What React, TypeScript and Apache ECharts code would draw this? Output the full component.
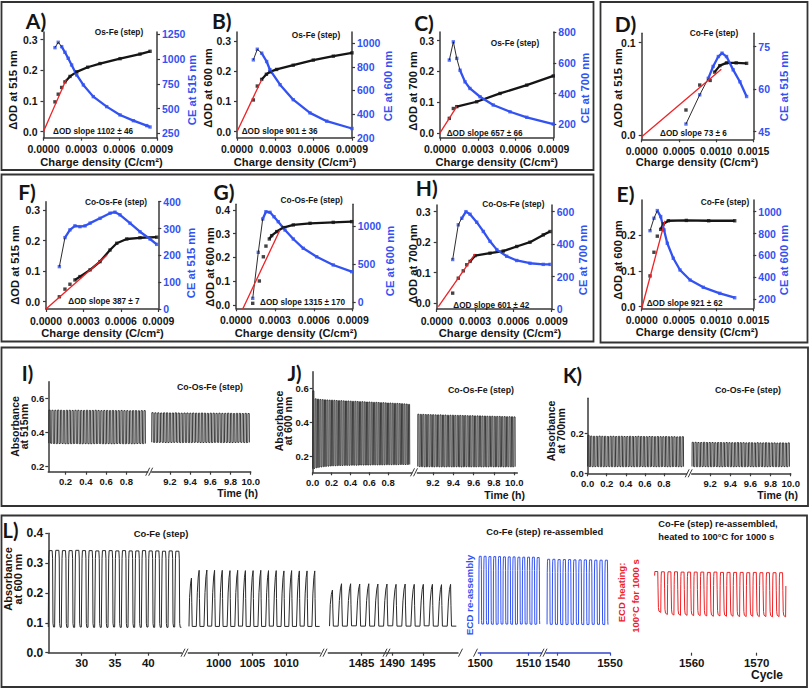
import React, { useEffect, useRef } from "react";
import * as echarts from "echarts";

type P = [number, number];

// ---------------- Panels A–H : ΔOD (left) and CE (right) vs charge density ----------------
const A_OD: P[] = [[0.000091,0.097],[0.000117,0.122],[0.000144,0.144],[0.00017,0.162],[0.00021,0.18],[0.000263,0.195],[0.00035,0.21],[0.000448,0.222],[0.000607,0.238],[0.000765,0.253],[0.000845,0.262]];
const A_CE: P[] = [[0.000091,1115],[0.000117,1169],[0.000144,1125],[0.00017,1068],[0.000196,1007],[0.000223,940],[0.000263,839],[0.000316,738],[0.000395,620],[0.000501,519],[0.000607,435],[0.000713,377],[0.000819,327],[0.000845,313]];
const A_FIT: P[] = [[0,0],[0.00018,0.17]];

const B_OD: P[] = [[0.000128,0.105],[0.000159,0.151],[0.000193,0.173],[0.00023,0.19],[0.000258,0.198],[0.00031,0.206],[0.00044,0.22],[0.000597,0.237],[0.000754,0.25],[0.0009,0.261]];
const B_CE: P[] = [[0.000128,859],[0.000159,949],[0.000193,916],[0.000232,845],[0.000258,775],[0.000337,649],[0.00044,522],[0.000571,410],[0.000702,340],[0.0009,278]];
const B_FIT: P[] = [[0,0],[0.000193,0.172]];

const C_OD: P[] = [[0.000074,0.047],[0.000106,0.079],[0.000133,0.085],[0.000291,0.101],[0.000477,0.128],[0.000689,0.155],[0.0009,0.185]];
const C_CE: P[] = [[0.000074,619],[0.000106,738],[0.000133,630],[0.000159,553],[0.000199,477],[0.000238,434],[0.000318,380],[0.000423,326],[0.000556,282],[0.000689,246],[0.0009,202]];
const C_FIT: P[] = [[0,0],[0.000133,0.085]];

const D_OD: P[] = [[0.000595,0.027],[0.00078,0.054],[0.00092,0.059],[0.00098,0.068],[0.00105,0.075],[0.00114,0.078],[0.00127,0.078],[0.00141,0.0775]];
const D_CE: P[] = [[0.000595,47.7],[0.00078,58],[0.000895,63.8],[0.00096,68],[0.00103,71.5],[0.00108,72.7],[0.00114,71.5],[0.00123,66.8],[0.00132,62.6],[0.00141,57.4]];
const D_FIT: P[] = [[0,-0.002],[0.00107,0.071]];

const E_OD: P[] = [[0.000112,0.086],[0.000165,0.152],[0.00021,0.197],[0.000255,0.216],[0.00029,0.231],[0.000358,0.24],[0.0006,0.241],[0.0009,0.24],[0.00125,0.24]];
const E_CE: P[] = [[0.000112,826],[0.000165,940],[0.00021,1010],[0.000255,955],[0.0003,833],[0.000344,711],[0.000425,573],[0.000515,466],[0.00065,374],[0.000828,307],[0.00105,252],[0.00125,212]];
const E_FIT: P[] = [[0,-0.005],[0.000313,0.24]];

const F_OD: P[] = [[0.000107,0.016],[0.000152,0.041],[0.000192,0.057],[0.000232,0.071],[0.000272,0.082],[0.000353,0.104],[0.000433,0.131],[0.000513,0.169],[0.000567,0.191],[0.000647,0.205],[0.000753,0.209],[0.000887,0.211]];
const F_CE: P[] = [[0.000107,158],[0.000152,266],[0.000192,295],[0.000232,310],[0.000272,307],[0.000313,310],[0.000353,320],[0.000433,338],[0.000513,357],[0.000553,361],[0.000593,351],[0.000673,320],[0.000753,288],[0.000834,261],[0.000887,241]];
const F_FIT: P[] = [[0,-0.024],[0.00049,0.153]];

const G_OD: P[] = [[0.000129,0.007],[0.00018,0.101],[0.000211,0.203],[0.000231,0.248],[0.000257,0.278],[0.000275,0.292],[0.000314,0.309],[0.000365,0.326],[0.000442,0.337],[0.000571,0.344],[0.00075,0.348],[0.000892,0.351]];
const G_CE: P[] = [[0.000129,52],[0.000172,655],[0.000206,1091],[0.000231,1187],[0.000262,1179],[0.000293,1121],[0.000326,1056],[0.000378,947],[0.000442,829],[0.000519,707],[0.000622,597],[0.00075,489],[0.000892,401]];
const G_FIT: P[] = [[0.000052,-0.017],[0.000339,0.316]];

const H_OD: P[] = [[0.000125,0.033],[0.000169,0.082],[0.000208,0.106],[0.000235,0.126],[0.000261,0.137],[0.0003,0.156],[0.000417,0.164],[0.000521,0.171],[0.000626,0.186],[0.00073,0.2],[0.000834,0.224],[0.000887,0.235]];
const H_CE: P[] = [[0.000125,305],[0.000169,519],[0.000196,559],[0.000229,600],[0.000261,584],[0.000313,535],[0.000365,478],[0.000417,417],[0.00047,366],[0.000548,325],[0.000626,299],[0.00073,282],[0.000834,275],[0.000887,275]];
const H_FIT: P[] = [[0.000013,-0.011],[0.0003,0.161]];

// tick values
const X9 = [0, 0.0003, 0.0006, 0.0009];
const X15 = [0, 0.0005, 0.001, 0.0015];
const OD3 = [0, 0.1, 0.2, 0.3];

// ---------------- Panels I–K : absorbance vs time, per-cycle peak / trough ----------------
const I1_PEAK = [0.531,0.53,0.53,0.531,0.53,0.529,0.53,0.53,0.529,0.53,0.53,0.529,0.529,0.53,0.529,0.529,0.53,0.529,0.528,0.529,0.529,0.528,0.529,0.528,0.528,0.529,0.528,0.528,0.527,0.528,0.528,0.527,0.528,0.528];
const I1_LOW = [0.338,0.336,0.335,0.335,0.336,0.335,0.334,0.335,0.335,0.336,0.335,0.334,0.335,0.335,0.334,0.335,0.335,0.336,0.335,0.334,0.335,0.335,0.334,0.335,0.336,0.335,0.334,0.335,0.335,0.334,0.335,0.336,0.335,0.335];
const I2_PEAK = [0.516,0.515,0.515,0.514,0.515,0.515,0.514,0.514,0.515,0.514,0.513,0.514,0.514,0.513,0.514,0.513,0.513,0.514,0.513,0.512,0.513,0.513,0.512,0.513,0.512,0.512,0.513,0.512,0.511,0.512,0.512,0.511,0.512,0.511];
const I2_LOW = [0.343,0.342,0.342,0.343,0.342,0.341,0.342,0.342,0.343,0.342,0.341,0.342,0.342,0.341,0.342,0.343,0.342,0.341,0.342,0.342,0.341,0.342,0.343,0.342,0.341,0.342,0.342,0.341,0.342,0.342,0.343,0.342,0.341,0.342];
const J1_PEAK = [0.585,0.538,0.536,0.534,0.533,0.532,0.531,0.53,0.53,0.529,0.528,0.527,0.527,0.526,0.525,0.525,0.524,0.523,0.523,0.522,0.521,0.521,0.52,0.519,0.519,0.518,0.517,0.517,0.516,0.515,0.515,0.514,0.513,0.513,0.512,0.511,0.511,0.51,0.509,0.508,0.507,0.505];
const J1_LOW = [0.125,0.13,0.132,0.135,0.137,0.138,0.14,0.141,0.142,0.143,0.143,0.144,0.144,0.145,0.145,0.145,0.146,0.146,0.146,0.146,0.147,0.147,0.147,0.147,0.147,0.148,0.148,0.148,0.148,0.148,0.148,0.149,0.149,0.149,0.149,0.149,0.149,0.15,0.15,0.15,0.15,0.15];
const J2_PEAK = [0.447,0.446,0.446,0.445,0.445,0.444,0.444,0.443,0.443,0.443,0.442,0.442,0.441,0.441,0.441,0.44,0.44,0.44,0.439,0.439,0.438,0.438,0.438,0.437,0.437,0.437,0.436,0.436,0.435,0.435,0.435,0.434,0.434,0.434,0.433,0.433,0.432,0.432,0.432,0.431];
const J2_LOW = [0.138,0.137,0.137,0.136,0.137,0.137,0.136,0.137,0.137,0.136,0.137,0.136,0.137,0.137,0.136,0.137,0.137,0.136,0.136,0.137,0.137,0.136,0.137,0.136,0.137,0.137,0.136,0.137,0.136,0.137,0.137,0.136,0.137,0.136,0.137,0.136,0.137,0.137,0.136,0.137];
const K1_PEAK = [0.19,0.186,0.185,0.185,0.186,0.185,0.185,0.184,0.185,0.185,0.184,0.185,0.185,0.184,0.184,0.185,0.184,0.184,0.185,0.184,0.184,0.183,0.184,0.184,0.183,0.184,0.183,0.183,0.184,0.183,0.183,0.183,0.182,0.183,0.183];
const K1_LOW = [0.034,0.033,0.033,0.034,0.033,0.033,0.033,0.034,0.033,0.033,0.033,0.034,0.033,0.033,0.033,0.034,0.033,0.033,0.033,0.034,0.033,0.033,0.033,0.034,0.033,0.033,0.033,0.034,0.033,0.033,0.033,0.034,0.033,0.033,0.033];
const K2_PEAK = [0.155,0.155,0.154,0.154,0.155,0.154,0.154,0.154,0.153,0.154,0.154,0.153,0.154,0.153,0.153,0.153,0.154,0.153,0.153,0.152,0.153,0.153,0.152,0.153,0.152,0.152,0.153,0.152,0.152,0.152,0.151,0.152,0.152,0.151,0.152];
const K2_LOW = [0.034,0.033,0.033,0.033,0.034,0.033,0.033,0.033,0.034,0.033,0.033,0.033,0.034,0.033,0.033,0.033,0.034,0.033,0.033,0.033,0.034,0.033,0.033,0.033,0.034,0.033,0.033,0.033,0.034,0.033,0.033,0.033,0.034,0.033,0.033];
// time spans covered by each recorded segment (h)
const I1_SPAN: P = [0.035, 1.0];
const I2_SPAN: P = [9.02, 10.0];
const J1_SPAN: P = [0.0, 1.04];
const J2_SPAN: P = [9.05, 10.02];
const K1_SPAN: P = [0.0, 1.02];
const K2_SPAN: P = [9.02, 10.0];

// ---------------- Panel L : absorbance at 600 nm per cycle ----------------
const L1_PEAK = [0.342,0.343,0.342,0.342,0.343,0.342,0.342,0.341,0.342,0.342,0.341,0.342,0.341,0.341,0.342,0.341,0.341,0.34,0.341,0.34];
const L1_LOW = [0.086,0.085,0.085,0.085,0.086,0.085,0.085,0.085,0.085,0.086,0.085,0.085,0.085,0.085,0.086,0.085,0.085,0.085,0.086,0.085];
const L2_PEAK = [0.25,0.276,0.277,0.276,0.276,0.275,0.276,0.275,0.275,0.276,0.275,0.275,0.274,0.275,0.274,0.274,0.274];
const L2_LOW = [0.088,0.088,0.089,0.088,0.088,0.088,0.089,0.088,0.088,0.088,0.089,0.088,0.088,0.088,0.089,0.088,0.088];
const L3_PEAK = [0.21,0.231,0.231,0.23,0.231,0.23,0.23,0.229,0.23,0.229,0.229,0.229,0.228,0.229];
const L3_LOW = [0.089,0.089,0.09,0.089,0.089,0.089,0.09,0.089,0.089,0.089,0.09,0.089,0.089,0.089];
const L4_PEAK = [0.323,0.323,0.322,0.322,0.322,0.321,0.321,0.321,0.32,0.32,0.32,0.32,0.319];
const L4_LOW = [0.096,0.096,0.096,0.095,0.096,0.096,0.096,0.095,0.096,0.096,0.096,0.095,0.096];
const L5_PEAK = [0.313,0.313,0.312,0.312,0.312,0.311,0.311,0.311,0.311,0.31,0.31,0.31];
const L5_LOW = [0.095,0.095,0.095,0.094,0.095,0.095,0.095,0.094,0.095,0.095,0.095,0.094];
const L6_PEAK = [0.272,0.271,0.271,0.271,0.27,0.27,0.27,0.27,0.269,0.27,0.269,0.269,0.269,0.269,0.268,0.269,0.268,0.268,0.268,0.268];
const L6_LOW = [0.135,0.128,0.126,0.125,0.125,0.124,0.124,0.123,0.122,0.123,0.122,0.122,0.121,0.121,0.122,0.121,0.121,0.12,0.121,0.12];
const L1_SPAN: P = [25, 45];
const L2_SPAN: P = [995.6, 1015];
const L3_SPAN: P = [1479.8, 1500.5];
const L4_SPAN: P = [1499.7, 1512.7];
const L5_SPAN: P = [1538, 1550];
const L6_SPAN: P = [1554.3, 1574.5];

// ---------------- styles ----------------
const BLUE = "#3352f2";
const RED = "#ee2226";
const INK = "#151515";
const AXIS = "#3a3a3a";
const FONT = "'Liberation Sans', Arial, Helvetica, sans-serif";
const LFONT = "Lato, 'Open Sans', sans-serif";

// one-cycle templates [fraction of period, fraction of amplitude]
const SHAPE_FAST: P[] = [[0,0],[0.06,1],[0.5,1],[0.56,0]];
const SHAPE_SQ: P[] = [[0,0],[0.06,0.9],[0.12,1],[0.58,1],[0.64,0.9],[0.7,0.05],[0.78,0],[0.95,0]];
const SHAPE_SAW: P[] = [[0,0],[0.08,0.6],[0.2,0.88],[0.32,1],[0.36,0.5],[0.42,0],[0.95,0]];
const SHAPE_BLUE: P[] = [[0,0],[0.04,0.8],[0.08,0.97],[0.12,1],[0.5,1],[0.54,0.8],[0.58,0.05],[0.62,0]];
const SHAPE_RED: P[] = [[0,0.9],[0.04,1],[0.48,1],[0.52,0.6],[0.58,0.12],[0.66,0.03],[0.94,0],[0.98,0.7]];

function wave(span: P, peaks: number[], lows: number[], shape: P[]): P[] {
  const n = peaks.length;
  const per = (span[1] - span[0]) / n;
  const out: P[] = [];
  for (let i = 0; i < n; i++) {
    for (const [fx, fy] of shape) {
      out.push([span[0] + (i + fx) * per, lows[i] + fy * (peaks[i] - lows[i])]);
    }
  }
  return out;
}

const DUAL = [
  { grid: [43.5, 32, 113.5, 105.7], x: [0, 0.0009], xt: X9, yl: [-0.02, 0.325], ylt: OD3, yr: [205, 1273], yrt: [250, 500, 750, 1000, 1250], od: A_OD, ce: A_CE, fit: A_FIT, kOD: 3, kCE: 2,
    letter: "A)", lp: [36, 20], sub: "Os-Fe (step)", sp: [119, 31.7], slope: "ΔOD slope 1102 ± 46", slp: [53, 131.7], ln: "ΔOD at 515 nm", lnp: [12.5, 90], rn: "CE at 515 nm", rnp: [191.7, 90], xnp: [101.5, 161.7] },
  { grid: [237, 32, 115, 105.7], x: [0, 0.0009], xt: X9, yl: [-0.02, 0.33], ylt: OD3, yr: [200, 1095], yrt: [200, 400, 600, 800, 1000], od: B_OD, ce: B_CE, fit: B_FIT, kOD: 2, kCE: 2,
    letter: "B)", lp: [221.7, 20.7], sub: "Os-Fe (step)", sp: [316, 35], slope: "ΔOD slope 901 ± 36", slp: [241.7, 131.7], ln: "ΔOD at 600 nm", lnp: [208, 88], rn: "CE at 600 nm", rnp: [387.5, 86], xnp: [295, 162] },
  { grid: [440, 32, 113.3, 105.7], x: [0, 0.0009], xt: X9, yl: [-0.016, 0.328], ylt: OD3, yr: [113, 802], yrt: [200, 400, 600, 800], od: C_OD, ce: C_CE, fit: C_FIT, kOD: 2, kCE: 3,
    letter: "C)", lp: [424, 22.5], sub: "Os-Fe (step)", sp: [515, 42.7], slope: "ΔOD slope 657 ± 66", slp: [446.7, 133.3], ln: "ΔOD at 700 nm", lnp: [413, 91], rn: "CE at 700 nm", rnp: [585, 88], xnp: [496.7, 162.3] },
  { grid: [641.7, 33.3, 111.6, 106], x: [0, 0.0015], xt: X15, yl: [-0.0047, 0.11], ylt: [0, 0.1], yr: [42.3, 79.7], yrt: [45, 60, 75], od: D_OD, ce: D_CE, fit: D_FIT, kOD: 3, kCE: 2,
    letter: "D)", lp: [625.5, 23], sub: "Co-Fe (step)", sp: [714, 32.7], slope: "ΔOD slope 73 ± 6", slp: [660, 133.3], ln: "ΔOD at 515 nm", lnp: [617.5, 88], rn: "CE at 515 nm", rnp: [784, 86], xnp: [697, 162.3] },
  { grid: [641.7, 200, 111.6, 108.3], x: [0, 0.0015], xt: X15, yl: [-0.0045, 0.298], ylt: [0, 0.1, 0.2], yr: [115, 1107], yrt: [200, 400, 600, 800, 1000], od: E_OD, ce: E_CE, fit: E_FIT, kOD: 3, kCE: 2,
    letter: "E)", lp: [625.5, 193], sub: "Co-Fe (step)", sp: [725, 201.7], slope: "ΔOD slope 921 ± 62", slp: [646.7, 303.3], ln: "ΔOD at 600 nm", lnp: [617.5, 260], rn: "CE at 600 nm", rnp: [784, 260], xnp: [697, 331.7] },
  { grid: [46, 201.7, 112.3, 107.3], x: [0, 0.0009], xt: X9, yl: [-0.024, 0.327], ylt: OD3, yr: [0, 400], yrt: [0, 100, 200, 300, 400], od: F_OD, ce: F_CE, fit: F_FIT, kOD: 3, kCE: 1,
    letter: "F)", lp: [27, 191], sub: "Co-Os-Fe (step)", sp: [116, 201.7], slope: "ΔOD slope 387 ± 7", slp: [68.3, 301.7], ln: "ΔOD at 515 nm", lnp: [15, 265], rn: "CE at 515 nm", rnp: [191, 263], xnp: [102.5, 333.3] },
  { grid: [236, 204.3, 116.7, 104], x: [0, 0.0009], xt: X9, yl: [-0.014, 0.424], ylt: [0, 0.1, 0.2, 0.3, 0.4], yr: [-79, 1284], yrt: [0, 500, 1000], od: G_OD, ce: G_CE, fit: G_FIT, kOD: 4, kCE: 2,
    letter: "G)", lp: [224, 191.5], sub: "Co-Os-Fe (step)", sp: [311.7, 200], slope: "ΔOD slope 1315 ± 170", slp: [260, 302.3], ln: "ΔOD at 600 nm", lnp: [210, 267], rn: "CE at 600 nm", rnp: [390, 261], xnp: [296, 333] },
  { grid: [436.7, 205, 115, 104], x: [0, 0.0009], xt: X9, yl: [-0.019, 0.322], ylt: OD3, yr: [0, 641], yrt: [0, 200, 400, 600], od: H_OD, ce: H_CE, fit: H_FIT, kOD: 4, kCE: 2,
    letter: "H)", lp: [426.7, 187.5], sub: "Co-Os-Fe (step)", sp: [513.3, 204.3], slope: "ΔOD slope 601 ± 42", slp: [453.3, 305], ln: "ΔOD at 700 nm", lnp: [413, 264], rn: "CE at 700 nm", rnp: [582.5, 260], xnp: [500, 333] },
];

const TIME = [
  { gl: [48.3, 381.7, 99.4, 90], gr: [151.7, 381.7, 99, 90], y: [0.171, 0.697], yt: [0.2, 0.4, 0.6], xl: [0.03, 1.01], xlt: [0.2, 0.4, 0.6, 0.8], xr: [9.02, 10.0],
    w1: wave(I1_SPAN, I1_PEAK, I1_LOW, SHAPE_FAST), w2: wave(I2_SPAN, I2_PEAK, I2_LOW, SHAPE_FAST),
    letter: "I)", lp: [27.5, 373], sp: [210, 386.7], yn: "Absorbance\nat 515nm", ynp: [19.5, 426.5], tp: [258, 493.3], brk: [149.7, 471.7] },
  { gl: [312.7, 371.7, 99, 100.6], gr: [417.3, 371.7, 100, 100.6], y: [0.104, 0.698], yt: [0.2, 0.4, 0.6], xl: [0, 1.05], xlt: [0, 0.2, 0.4, 0.6, 0.8], xr: [9.046, 10.03],
    w1: wave(J1_SPAN, J1_PEAK, J1_LOW, SHAPE_FAST), w2: wave(J2_SPAN, J2_PEAK, J2_LOW, SHAPE_FAST),
    letter: "J)", lp: [294.5, 373], sp: [481, 390], yn: "Absorbance\nat 600 nm", ynp: [283.3, 421], tp: [525, 495], brk: [414.5, 472.3] },
  { gl: [587.7, 398.3, 99, 75], gr: [691.7, 398.3, 99, 75], y: [0, 0.375], yt: [0, 0.2], xl: [0, 1.04], xlt: [0, 0.2, 0.4, 0.6, 0.8], xr: [9.017, 10.0],
    w1: wave(K1_SPAN, K1_PEAK, K1_LOW, SHAPE_FAST), w2: wave(K2_SPAN, K2_PEAK, K2_LOW, SHAPE_FAST),
    letter: "K)", lp: [572.5, 375], sp: [748, 390], yn: "Absorbance\nat 700nm", ynp: [555.8, 431], tp: [798, 495], brk: [689.2, 473.3] },
];
const TIME_RT = [9.2, 9.4, 9.6, 9.8, 10.0];

const CYC = [
  { g: [48.3, 533.3, 133.4, 119.4], x: [25, 45], xt: [30, 35, 40], data: wave(L1_SPAN, L1_PEAK, L1_LOW, SHAPE_SQ), color: "#2a2a2a", axis: AXIS },
  { g: [188.3, 533.3, 131.7, 119.4], x: [995.5, 1015], xt: [1000, 1005, 1010], data: wave(L2_SPAN, L2_PEAK, L2_LOW, SHAPE_SAW), color: "#2a2a2a", axis: AXIS },
  { g: [328.3, 533.3, 129.7, 119.4], x: [1479.6, 1500.7], xt: [1485, 1490, 1495], data: wave(L3_SPAN, L3_PEAK, L3_LOW, SHAPE_SAW), color: "#2a2a2a", axis: AXIS },
  { g: [478.3, 533.3, 63.3, 119.4], x: [1499.6, 1512.7], xt: [1500, 1510], data: wave(L4_SPAN, L4_PEAK, L4_LOW, SHAPE_BLUE), color: BLUE, axis: "#3347c8" },
  { g: [546, 533.3, 64, 119.4], x: [1537.8, 1550], xt: [1540, 1550], data: wave(L5_SPAN, L5_PEAK, L5_LOW, SHAPE_BLUE), color: BLUE, axis: "#3347c8" },
  { g: [653.3, 533.3, 132.7, 119.4], x: [1554.1, 1574.5], xt: [1560, 1570], data: wave(L6_SPAN, L6_PEAK, L6_LOW, SHAPE_RED), color: RED, axis: "grad" },
];

function buildOption() {
  const grid: any[] = [], xAxis: any[] = [], yAxis: any[] = [], series: any[] = [], graphic: any[] = [];
  const lab = (size: number, color = INK) => ({ fontSize: size, fontWeight: "bold", fontFamily: FONT, color });

  const addGrid = (g: number[]) => {
    grid.push({ left: g[0], top: g[1], width: g[2], height: g[3], containLabel: false, outerBoundsMode: "none", show: false });
    return grid.length - 1;
  };
  const addX = (gi: number, r: number[], ticks: number[], fmt: (v: number) => string, size: number, color: any = AXIS, margin = 4) => {
    xAxis.push({
      type: "value", gridIndex: gi, min: r[0], max: r[1], position: "bottom",
      axisLine: { show: true, onZero: false, lineStyle: { color, width: 1.5 } },
      axisTick: { show: true, length: 3, customValues: ticks, lineStyle: { color: typeof color === "string" ? color : AXIS, width: 1.2 } },
      axisLabel: { show: true, customValues: ticks, formatter: fmt, margin, hideOverlap: false, ...lab(size) },
      splitLine: { show: false },
    });
    return xAxis.length - 1;
  };
  const addY = (gi: number, r: number[], ticks: number[] | null, fmt: (v: number) => string, size: number, pos: string, labColor = INK, margin = 6) => {
    if (!ticks) {
      yAxis.push({ type: "value", gridIndex: gi, min: r[0], max: r[1], show: false });
    } else {
      yAxis.push({
        type: "value", gridIndex: gi, min: r[0], max: r[1], position: pos,
        axisLine: { show: true, onZero: false, lineStyle: { color: AXIS, width: 1.5 } },
        axisTick: { show: true, length: 3, customValues: ticks, lineStyle: { color: AXIS, width: 1.2 } },
        axisLabel: { show: true, customValues: ticks, formatter: fmt, margin, hideOverlap: false, ...lab(size, labColor) },
        splitLine: { show: false },
      });
    }
    return yAxis.length - 1;
  };
  const txt = (text: string, x: number, y: number, o: any = {}) => {
    graphic.push({
      type: "text", x, y, rotation: o.rot || 0, z: 100, silent: true,
      style: {
        text, fill: o.color || INK, fontSize: o.size || 10, fontWeight: o.weight || "bold",
        fontFamily: o.family || FONT, align: o.align || "center", verticalAlign: "middle",
        lineHeight: o.lh || undefined,
      },
    });
  };
  const slash = (x: number, y: number) => {
    graphic.push({ type: "line", z: 100, silent: true, shape: { x1: x - 2.5, y1: y + 4, x2: x + 1.5, y2: y - 4 }, style: { stroke: AXIS, lineWidth: 1 } });
  };
  const brk = (x: number, y: number) => { slash(x - 1.5, y); slash(x + 1.5, y); };
  const line = (xi: number, yi: number, data: P[], color: string, width: number, z: number) => {
    series.push({ type: "line", xAxisIndex: xi, yAxisIndex: yi, data, symbol: "none", showSymbol: false, lineStyle: { color, width }, z, silent: true, clip: true });
  };
  const dots = (xi: number, yi: number, data: P[], color: string, z: number) => {
    series.push({ type: "scatter", xAxisIndex: xi, yAxisIndex: yi, data, symbol: "rect", symbolSize: 3.4, itemStyle: { color }, z, silent: true });
  };
  const VROT = Math.PI / 2;

  // ---- A–H ----
  for (const p of DUAL) {
    const gi = addGrid(p.grid);
    const xi = addX(gi, p.x, p.xt, (v) => v.toFixed(4), 10.5, AXIS, 6);
    const yl = addY(gi, p.yl, p.ylt, (v) => v.toFixed(1), 10.5, "left", INK, 6);
    const yr = addY(gi, p.yr, p.yrt, (v) => String(Math.round(v)), 10.5, "right", BLUE, 5);
    line(xi, yl, p.od.slice(p.kOD), INK, 2.3, 2);
    dots(xi, yl, p.od, INK, 3);
    line(xi, yr, p.ce.slice(p.kCE), BLUE, 2.3, 2);
    dots(xi, yr, p.ce, BLUE, 3);
    line(xi, yr, p.ce.slice(0, p.kCE + 1), INK, 0.9, 4);
    line(xi, yl, p.fit, RED, 1.3, 5);
    txt(p.letter, p.lp[0], p.lp[1], { size: 21, family: LFONT });
    txt(p.sub, p.sp[0], p.sp[1], { size: 8.3 });
    txt(p.slope, p.slp[0], p.slp[1], { size: 8.2, align: "left" });
    txt(p.ln, p.lnp[0], p.lnp[1], { size: 11.2, rot: VROT });
    txt(p.rn, p.rnp[0], p.rnp[1], { size: 11.2, rot: VROT, color: BLUE });
    txt("Charge density (C/cm²)", p.xnp[0], p.xnp[1], { size: 11.2 });
  }

  // ---- I–K ----
  for (const p of TIME) {
    const g1 = addGrid(p.gl);
    const x1 = addX(g1, p.xl, p.xlt, (v) => v.toFixed(1), 9.5, AXIS, 5);
    const y1 = addY(g1, p.y, p.yt, (v) => v.toFixed(1), 9.5, "left", INK, 4);
    const g2 = addGrid(p.gr);
    const x2 = addX(g2, p.xr, TIME_RT, (v) => v.toFixed(1), 9.5, AXIS, 5);
    const y2 = addY(g2, p.y, null, () => "", 9.5, "left");
    line(x1, y1, p.w1, "#262626", 0.9, 2);
    line(x2, y2, p.w2, "#262626", 0.9, 2);
    txt(p.letter, p.lp[0], p.lp[1], { size: 20, family: LFONT });
    txt("Co-Os-Fe (step)", p.sp[0], p.sp[1], { size: 8.8 });
    txt(p.yn, p.ynp[0], p.ynp[1], { size: 10.5, rot: VROT, lh: 9.5 });
    txt("Time (h)", p.tp[0], p.tp[1], { size: 10.5, align: "right" });
    brk(p.brk[0], p.brk[1]);
  }

  // ---- L ----
  const gradAxis = new echarts.graphic.LinearGradient(0, 0, 1, 0, [
    { offset: 0, color: "#3347c8" }, { offset: 0.4, color: "#3347c8" }, { offset: 0.6, color: "#a0334a" }, { offset: 1, color: "#a0334a" },
  ]);
  CYC.forEach((s, i) => {
    const gi = addGrid(s.g);
    const xi = addX(gi, s.x, s.xt, (v) => String(Math.round(v)), 11.5, s.axis === "grad" ? gradAxis : s.axis, 4.5);
    const yi = i === 0
      ? addY(gi, [0, 0.4], [0, 0.1, 0.2, 0.3, 0.4], (v) => v.toFixed(1), 12, "left", INK, 5)
      : addY(gi, [0, 0.4], null, () => "", 12, "left");
    line(xi, yi, s.data, s.color, 1, 2);
  });
  txt("L)", 10.5, 530, { size: 20, family: LFONT });
  txt("Absorbance\nat 600 nm", 12.5, 579, { size: 11, rot: VROT, lh: 10 });
  txt("Co-Fe (step)", 161, 533.3, { size: 9.4 });
  txt("Co-Fe (step) re-assembled", 544.7, 532.3, { size: 9.3 });
  txt("Co-Fe (step) re-assembled,", 658.3, 524.3, { size: 9.3, align: "left" });
  txt("heated to 100°C for 1000 s", 658.3, 536.7, { size: 9.3, align: "left" });
  txt("ECD re-assembly", 469, 595, { size: 9.8, rot: VROT, color: BLUE });
  txt("ECD heating:", 621, 592.5, { size: 9.5, rot: VROT, color: RED });
  txt("100°C for 1000 s", 635, 596, { size: 9.5, rot: VROT, color: RED });
  txt("Cycle", 783, 675, { size: 12, align: "right" });
  brk(185, 652.7);
  brk(324, 652.7);
  brk(387, 652.7);
  slash(461, 652.7);
  slash(476, 652.7);
  brk(544, 652.7);

  // ---- frames ----
  const frame = (x: number, y: number, w: number, h: number) =>
    graphic.push({ type: "rect", z: 90, silent: true, shape: { x, y, width: w, height: h }, style: { fill: "none", stroke: "#333", lineWidth: 1.8 } });
  frame(1.5, 2, 592, 168);
  frame(1.5, 174.5, 592, 167);
  frame(600.5, 2, 207, 340.5);
  frame(1.5, 347.5, 806.5, 158.5);
  frame(1.5, 515.5, 805.5, 171.5);

  return { animation: false, backgroundColor: "#ffffff", grid, xAxis, yAxis, series, graphic };
}

export default function App() {
  const ref = useRef<HTMLDivElement>(null);
  useEffect(() => {
    if (!ref.current) return;
    const chart = echarts.init(ref.current, undefined, { renderer: "svg" });
    chart.setOption(buildOption() as any);
    return () => chart.dispose();
  }, []);
  return <div ref={ref} style={{ position: "absolute", left: 0, top: 0, width: 810, height: 690, background: "#fff" }} />;
}
